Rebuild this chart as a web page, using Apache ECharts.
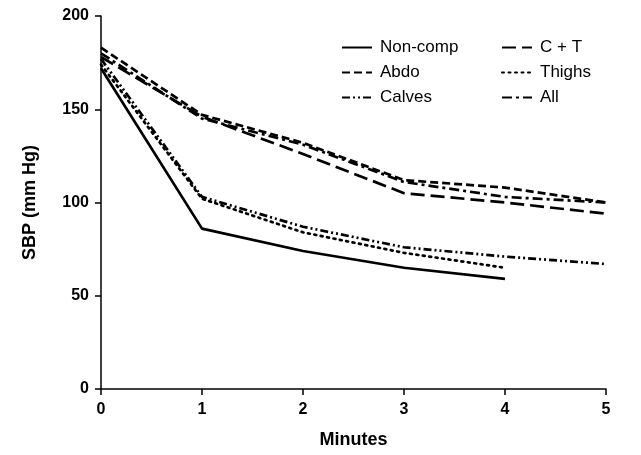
<!DOCTYPE html>
<html><head><meta charset="utf-8">
<script src="https://cdn.jsdelivr.net/npm/echarts@6/dist/echarts.min.js"></script>
<style>html,body{margin:0;padding:0;background:#fff}#c{width:641px;height:455px}</style>
</head><body><div id="c"></div>
<script>
const minutes = [0, 1, 2, 3, 4, 5];
const nonComp = [172, 86, 74, 65, 59];
const abdo = [183, 147, 132, 112, 108, 100];
const calves = [177, 103, 87, 76, 71, 67];
const cPlusT = [178, 146, 126, 105, 100, 94];
const thighs = [174, 102, 84, 73, 65];
const allComp = [180, 145, 131, 111, 103, 100];
const yTicks = [0, 50, 100, 150, 200];

const pairs = arr => arr.map((v, i) => [minutes[i], v]);
const F = 'Liberation Sans, Arial, sans-serif';
function mk(name, data, dash, cap) {
  return {
    name, type: 'line', data: pairs(data), symbol: 'none', showSymbol: false,
    lineStyle: { color: '#000', width: 2.7, type: dash, cap: cap || 'butt' },
    itemStyle: { color: '#000' }, animation: false
  };
}
const legBase = {
  orient: 'vertical', top: 34, itemWidth: 30, itemHeight: 14, itemGap: 8,
  itemStyle: { opacity: 0 },
  textStyle: { fontFamily: F, fontSize: 17, color: '#000', padding: [0, 0, 0, 3] }
};
const chart = echarts.init(document.getElementById('c'), null, { renderer: 'canvas' });
chart.setOption({
  animation: false,
  grid: { left: 101, right: 35, top: 16, bottom: 66 },
  legend: [
    Object.assign({ data: ['Non-comp', 'Abdo', 'Calves'], left: 336 }, legBase),
    Object.assign({ data: ['C + T', 'Thighs', 'All'], left: 496 }, legBase)
  ],
  xAxis: {
    type: 'value', min: 0, max: 5, interval: 1,
    name: 'Minutes', nameLocation: 'middle', nameGap: 42,
    nameTextStyle: { fontFamily: F, fontSize: 18, fontWeight: 'bold', color: '#000' },
    axisLine: { lineStyle: { color: '#000', width: 1.5 } },
    axisTick: { lineStyle: { color: '#000', width: 1.5 }, length: 6 },
    axisLabel: { fontFamily: F, fontSize: 16, fontWeight: 'bold', color: '#000', margin: 13 },
    splitLine: { show: false }
  },
  yAxis: {
    type: 'value', min: 0, max: 200, interval: 50,
    name: 'SBP (mm Hg)', nameLocation: 'middle', nameGap: 62, nameRotate: 90,
    nameTextStyle: { fontFamily: F, fontSize: 18, fontWeight: 'bold', color: '#000' },
    axisLine: { show: true, lineStyle: { color: '#000', width: 1.5 } },
    axisTick: { show: true, lineStyle: { color: '#000', width: 1.5 }, length: 6 },
    axisLabel: { fontFamily: F, fontSize: 16, fontWeight: 'bold', color: '#000', margin: 12,
      formatter: v => yTicks.includes(v) ? String(v) : '' },
    splitLine: { show: false }
  },
  series: [
    mk('Non-comp', nonComp, 'solid'),
    mk('Abdo', abdo, [8, 4]),
    mk('Calves', calves, [8, 3, 2, 3, 2, 3]),
    mk('C + T', cPlusT, [14, 6]),
    mk('Thighs', thighs, [2, 4.5], 'round'),
    mk('All', allComp, [10, 4, 3, 4])
  ]
});
</script></body></html>
